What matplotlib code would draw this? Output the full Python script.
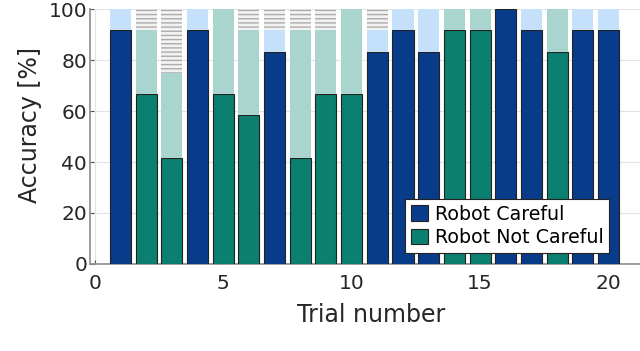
import numpy as np
import matplotlib.pyplot as plt
from matplotlib.patches import Patch

# =============================================================================
# Data (accuracy in %, 12 items per trial)
# =============================================================================
trials = np.arange(1, 21)
careful = [1, 0, 0, 1, 0, 0, 1, 0, 0, 0, 1, 1, 1, 0, 0, 1, 1, 0, 1, 1]
correct = [91.67, 66.67, 41.67, 91.67, 66.67, 58.33, 83.33, 41.67, 66.67,
           66.67, 83.33, 91.67, 83.33, 91.67, 91.67, 100.0, 91.67, 83.33,
           91.67, 91.67]
# upper edge of the light (second) segment
light_top = [100.0, 91.67, 75.0, 100.0, 100.0, 91.67, 91.67, 91.67, 91.67,
             100.0, 91.67, 100.0, 100.0, 100.0, 100.0, 100.0, 100.0, 100.0,
             100.0, 100.0]
total = 100.0

c_dark = {1: "#083c8a", 0: "#0b8070"}
c_light = {1: "#c4e0fb", 0: "#aad5cf"}

# =============================================================================
# Plotting
# =============================================================================
plt.rcParams['font.family'] = ['DejaVu Sans']
plt.rcParams['hatch.linewidth'] = 1.0
fig = plt.figure(figsize=(6.4, 3.51), dpi=100)
ax = fig.add_axes([0.1406, 0.248, 0.8594, 0.726])

w = 0.82
correct = np.array(correct)
light_top = np.array(light_top)
dark_cols = [c_dark[c] for c in careful]
light_cols = [c_light[c] for c in careful]

ax.bar(trials, correct, width=w, color=dark_cols, edgecolor="#222222",
       linewidth=0.8, zorder=3)
ax.bar(trials, light_top - correct, bottom=correct, width=w,
       color=light_cols, linewidth=0, zorder=3)
ax.bar(trials, total - light_top, bottom=light_top, width=w,
       color="#f2f2f2", edgecolor="#acacac", hatch="----", linewidth=0,
       zorder=3)

ax.set_xlim(-0.19, 21.23)
ax.set_ylim(0, 100)
ax.set_xticks([0, 5, 10, 15, 20])
ax.set_yticks([0, 20, 40, 60, 80, 100])
ax.tick_params(direction="in", length=3, labelsize=14.5, color="#555555",
               labelcolor="#262626")
ax.tick_params(axis="x", pad=7)
ax.tick_params(axis="y", pad=2)
ax.grid(True, color="#e3e3e3", linewidth=0.8, zorder=0)
for s in ["top", "right"]:
    ax.spines[s].set_visible(False)
for s in ["left", "bottom"]:
    ax.spines[s].set_color("#8c8c8c")
    ax.spines[s].set_linewidth(1.2)

ax.set_xlabel("Trial number", fontsize=17, color="#262626", va="top")
ax.set_ylabel("Accuracy [%]", fontsize=17, color="#262626")
ax.xaxis.set_label_coords(0.512, -0.155)
ax.yaxis.set_label_coords(-0.087, 0.545)

handles = [Patch(facecolor=c_dark[1], edgecolor="#222222", linewidth=0.8),
           Patch(facecolor=c_dark[0], edgecolor="#222222", linewidth=0.8)]
leg = ax.legend(handles, ["Robot Careful", "Robot Not Careful"],
                loc="lower right", bbox_to_anchor=(0.944, 0.043),
                fontsize=13.7, fancybox=False, framealpha=1,
                edgecolor="#222222", handlelength=0.9, handleheight=0.85,
                handletextpad=0.35, borderpad=0.3, labelspacing=0.25,
                borderaxespad=0)
leg.get_frame().set_linewidth(0.8)
leg.set_zorder(5)

fig.savefig("out.png", dpi=100)
